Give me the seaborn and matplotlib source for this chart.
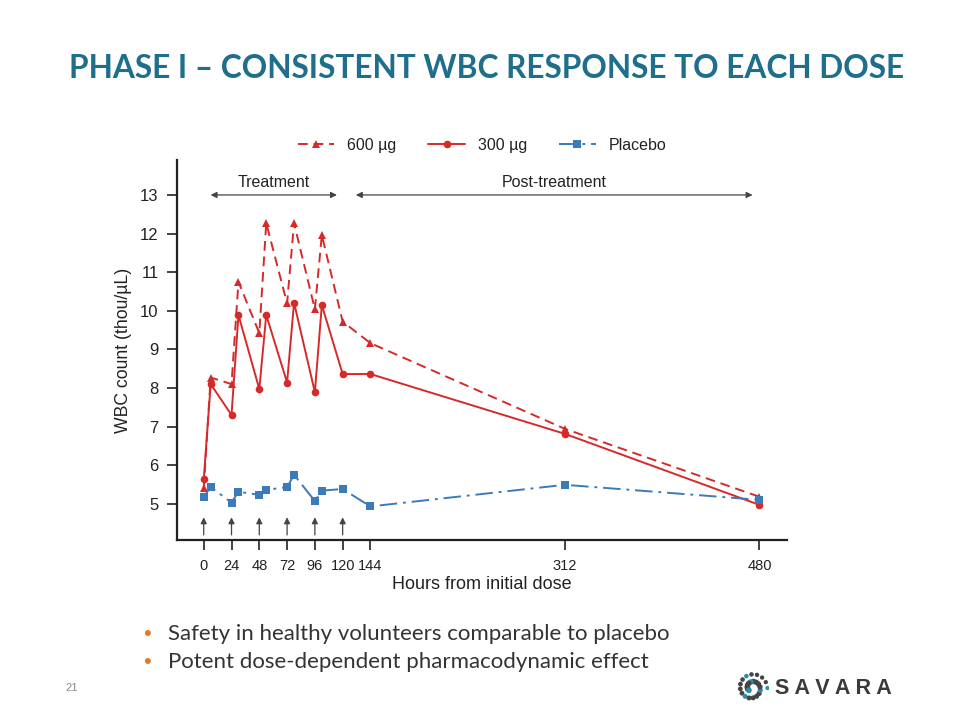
import numpy as np
import matplotlib
matplotlib.use("Agg")
import matplotlib.pyplot as plt
import seaborn as sns

# hours after first dose
hours = [0, 6, 24, 30, 48, 54, 72, 78, 96, 102, 120, 144, 312, 480]
dose_hours = [0, 24, 48, 72, 96, 120]
xtick_vals = [0, 24, 48, 72, 96, 120, 144, 312, 480]

# WBC count (thou/uL)
wbc_600 = [5.40, 8.27, 8.10, 10.75, 9.42, 12.27, 10.19, 12.27, 10.04, 11.96, 9.72, 9.16, 6.94, 5.18]
wbc_300 = [5.63, 8.10, 7.30, 9.89, 7.97, 9.89, 8.14, 10.21, 7.89, 10.15, 8.36, 8.36, 6.81, 4.97]
wbc_placebo = [5.18, 5.43, 5.03, 5.31, 5.23, 5.36, 5.43, 5.75, 5.07, 5.34, 5.38, 4.93, 5.49, 5.10]

bullets = ["Safety in healthy volunteers comparable to placebo",
           "Potent dose-dependent pharmacodynamic effect"]

sns.set_style("ticks")
plt.rcParams['font.family'] = ['Liberation Sans', 'DejaVu Sans']

RED = "#d62a2a"
BLUE = "#3b7bb8"
INK = "#222222"

fig = plt.figure(figsize=(9.6, 7.2), dpi=100)
ax = fig.add_axes([0.184, 0.25, 0.636, 0.528])

sns.lineplot(x=hours, y=wbc_600, ax=ax, color=RED, marker="^", markersize=5.5,
             markeredgewidth=0, linestyle=(0, (5, 3)), linewidth=1.4, label="600 µg")
sns.lineplot(x=hours, y=wbc_300, ax=ax, color=RED, marker="o", markersize=5.5,
             markeredgewidth=0, linewidth=1.4, label="300 µg")
sns.lineplot(x=hours, y=wbc_placebo, ax=ax, color=BLUE, marker="s", markersize=5.5,
             markeredgewidth=0, linestyle=(0, (9, 3, 1.5, 3)), linewidth=1.4, label="Placebo")

ax.set_xlim(-23.4, 504)
ax.set_ylim(4.06, 13.91)
ax.set_xticks(xtick_vals)
ax.set_yticks(range(5, 14))
ax.tick_params(axis="both", length=7, width=1.2, color=INK, labelcolor=INK, direction="out")
ax.tick_params(axis="x", labelsize=10.5, pad=7)
ax.tick_params(axis="y", labelsize=12, pad=6)
for s in ["left", "bottom"]:
    ax.spines[s].set_linewidth(1.6)
    ax.spines[s].set_color(INK)
sns.despine(ax=ax)
ax.set_xlabel("Hours from initial dose", fontsize=13, color=INK, labelpad=2)
ax.set_ylabel("WBC count (thou/µL)", fontsize=12.7, color=INK, labelpad=6)

leg = ax.legend(loc="lower center", bbox_to_anchor=(0.5, 0.98), ncol=3, frameon=False,
                fontsize=11.5, handlelength=2.3, columnspacing=2.0, handletextpad=0.8)
for t in leg.get_texts():
    t.set_color(INK)

# dosing arrows
for h in dose_hours:
    ax.annotate("", xy=(h, 4.72), xytext=(h, 4.12),
                arrowprops=dict(arrowstyle="-|>", color="#444444", lw=0.9,
                                mutation_scale=9))

# treatment / post-treatment spans
ax.annotate("", xy=(3.5, 13.0), xytext=(117.5, 13.0),
            arrowprops=dict(arrowstyle="<|-|>", color="#444444", lw=0.9, mutation_scale=9))
ax.annotate("", xy=(129, 13.0), xytext=(476.5, 13.0),
            arrowprops=dict(arrowstyle="<|-|>", color="#444444", lw=0.9, mutation_scale=9))
ax.text(60.5, 13.12, "Treatment", ha="center", va="bottom", fontsize=11.5, color=INK)
ax.text(302.5, 13.12, "Post-treatment", ha="center", va="bottom", fontsize=11.5, color=INK)

# slide title
fig.text(0.507, 0.905, "PHASE I – CONSISTENT WBC RESPONSE TO EACH DOSE", ha="center", va="center",
         fontsize=22.8, fontweight="bold", color="#1f6e8c", family=['Lato', 'DejaVu Sans'])

# bullets
for i, b in enumerate(bullets):
    y = 1 - (634 + 28 * i) / 720
    fig.text(147 / 960, y, "•", ha="center", va="center", fontsize=16, color="#e07b28")
    fig.text(168 / 960, y, b, ha="left", va="center", fontsize=16, color="#333333",
             family=['Lato', 'DejaVu Sans'])

fig.text(72 / 960, 1 - 688 / 720, "21", ha="center", va="center", fontsize=8, color="#888888")

# logo
fig.text(775 / 960, 1 - 688 / 720, "S A V A R A", ha="left", va="center", fontsize=15.5,
         fontweight="bold", color="#3a3a3a")
lax = fig.add_axes([735 / 960, 1 - 705 / 720, 34 / 960, 34 / 720])
lax.set_axis_off()
ang = np.linspace(0, 2 * np.pi * 1.6, 26)
rad = np.linspace(1.0, 0.25, 26)
lax.scatter(rad * np.cos(ang), rad * np.sin(ang), s=np.linspace(4, 10, 26),
            c=["#2a8fa6" if k % 5 == 0 else "#444444" for k in range(26)])
lax.set_xlim(-1.1, 1.1)
lax.set_ylim(-1.1, 1.1)

fig.savefig("out.png", dpi=100)
